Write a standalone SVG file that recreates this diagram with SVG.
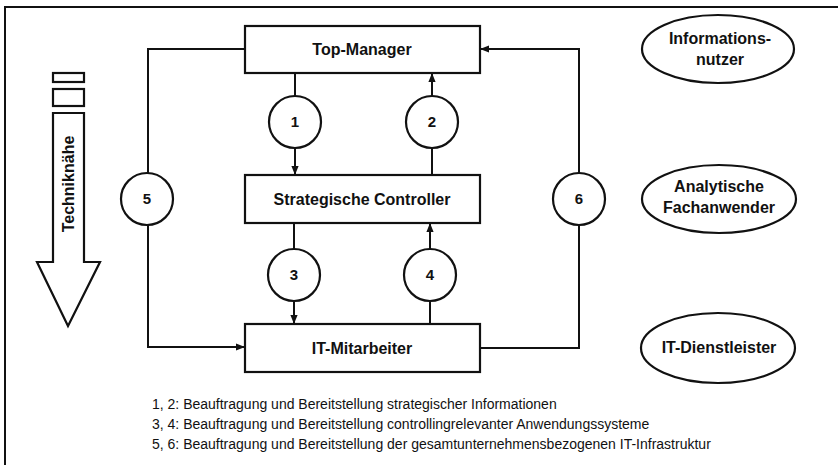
<svg xmlns="http://www.w3.org/2000/svg" width="838" height="465" viewBox="0 0 838 465">
<defs>
<marker id="ah" viewBox="0 0 10 10" refX="10" refY="5" markerWidth="9" markerHeight="9" markerUnits="userSpaceOnUse" orient="auto">
<path d="M0,1 L10,5 L0,9 Z" fill="#111"/>
</marker>
</defs>
<style>
.box{fill:#fff;stroke:#111;stroke-width:2.2}
.ln{fill:none;stroke:#111;stroke-width:2}
.b{font-family:"Liberation Sans",Arial,sans-serif;font-weight:bold;font-size:16px;fill:#111;text-anchor:middle}
.n{font-family:"Liberation Sans",Arial,sans-serif;font-weight:bold;font-size:15px;fill:#111;text-anchor:middle}
.t{font-family:"Liberation Sans",Arial,sans-serif;font-size:14px;fill:#111}
</style>
<rect width="838" height="465" fill="#fff"/>
<path class="ln" d="M5,465 L5,7 L838,7" stroke-width="2.2"/>

<g id="techniknaehe">
<rect class="box" x="53" y="73" width="31" height="9"/>
<rect class="box" x="53" y="89" width="31" height="17"/>
<path class="box" d="M53,113 L84,113 L84,262 L100,262 L68,326 L37,262 L53,262 Z"/>
<text class="b" transform="translate(74,184) rotate(-90)">Techniknähe</text>
</g>

<g id="connectors">
<path class="ln" d="M295,73 L295,96"/>
<path class="ln" d="M295,147 L295,175" marker-end="url(#ah)"/>
<path class="ln" d="M432,175 L432,147"/>
<path class="ln" d="M432,96 L432,73" marker-end="url(#ah)"/>
<path class="ln" d="M294,223 L294,249"/>
<path class="ln" d="M294,301 L294,324" marker-end="url(#ah)"/>
<path class="ln" d="M430,324 L430,301"/>
<path class="ln" d="M430,249 L430,223" marker-end="url(#ah)"/>
<path class="ln" d="M245,49 L148,49 L148,173"/>
<path class="ln" d="M148,225 L148,347 L245,347" marker-end="url(#ah)"/>
<path class="ln" d="M480,348 L579,348 L579,225"/>
<path class="ln" d="M579,173 L579,49 L480,49" marker-end="url(#ah)"/>
</g>

<g id="top-manager">
<rect class="box" x="245" y="26" width="235" height="47"/>
<text class="b" x="362" y="55">Top-Manager</text>
</g>
<g id="strategische-controller">
<rect class="box" x="245" y="175" width="235" height="48"/>
<text class="b" x="362" y="205">Strategische Controller</text>
</g>
<g id="it-mitarbeiter">
<rect class="box" x="245" y="324" width="235" height="48"/>
<text class="b" x="362" y="354">IT-Mitarbeiter</text>
</g>

<g id="c1"><circle class="box" cx="295" cy="122" r="26"/><text class="n" x="295" y="127">1</text></g>
<g id="c2"><circle class="box" cx="432" cy="122" r="26"/><text class="n" x="432" y="127">2</text></g>
<g id="c3"><circle class="box" cx="294" cy="275" r="26"/><text class="n" x="294" y="280">3</text></g>
<g id="c4"><circle class="box" cx="430" cy="275" r="26"/><text class="n" x="430" y="280">4</text></g>
<g id="c5"><circle class="box" cx="147" cy="199" r="26"/><text class="n" x="147" y="204">5</text></g>
<g id="c6"><circle class="box" cx="579" cy="199" r="26"/><text class="n" x="579" y="204">6</text></g>

<g id="informationsnutzer">
<ellipse class="box" cx="718" cy="49" rx="76" ry="34"/>
<text class="b" x="720" y="44">Informations-</text>
<text class="b" x="720" y="65">nutzer</text>
</g>
<g id="analytische-fachanwender">
<ellipse class="box" cx="719" cy="199" rx="77" ry="34"/>
<text class="b" x="719" y="192">Analytische</text>
<text class="b" x="719" y="213">Fachanwender</text>
</g>
<g id="it-dienstleister">
<ellipse class="box" cx="718" cy="348" rx="77" ry="35"/>
<text class="b" x="719" y="353">IT-Dienstleister</text>
</g>

<g id="legend">
<text class="t" x="152" y="409">1, 2: Beauftragung und Bereitstellung strategischer Informationen</text>
<text class="t" x="152" y="429">3, 4: Beauftragung und Bereitstellung controllingrelevanter Anwendungssysteme</text>
<text class="t" x="152" y="449">5, 6: Beauftragung und Bereitstellung der gesamtunternehmensbezogenen IT-Infrastruktur</text>
</g>
</svg>
